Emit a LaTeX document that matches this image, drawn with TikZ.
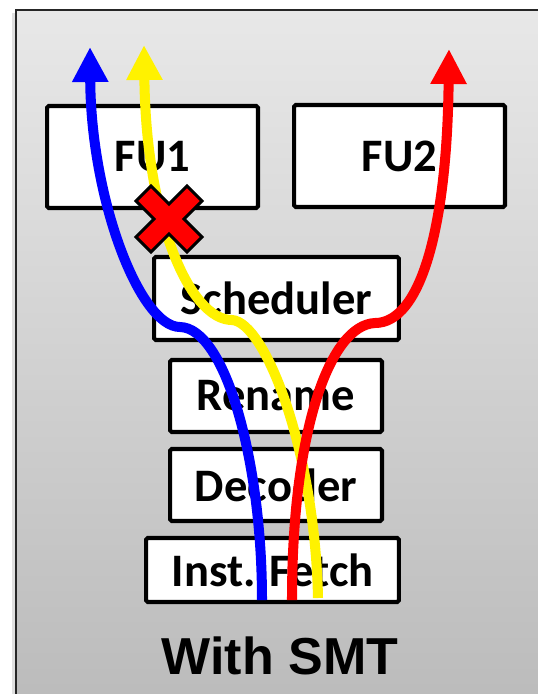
\documentclass[tikz,border=0pt]{standalone}
\usepackage{fontspec}
\setmainfont{Carlito}
\newfontfamily\arialfont{Liberation Sans}
\usetikzlibrary{arrows.meta}

\tikzset{
  stage/.style={draw, line width=2.3pt, rounded corners=1pt, fill=white, inner sep=0pt,
    font=\fontsize{26.5}{30}\selectfont\bfseries},
  thread/.style={line width=5.7pt, -{Triangle[length=0.7cm, width=0.68cm]}}
}

\begin{document}
\begin{tikzpicture}[x=0.02cm, y=-0.02cm]
  \useasboundingbox (0,0) rectangle (538,694);
  \clip (0,0) rectangle (538,694);
  % 背景框
  \fill[black!12] (12,13) rectangle (16,700);
  \shade[top color=black!9, bottom color=black!27] (16,10) rectangle (560,720);
  \draw[line width=1.2pt, black!85] (16,10) rectangle (560,720);
  % 各级
  \node[stage, minimum width=4.22cm, minimum height=2.04cm] (fu1) at (152.5,157) {FU1};
  \node[stage, minimum width=4.22cm, minimum height=2.04cm] (fu2) at (399.5,156) {FU2};
  \node[stage, minimum width=4.9cm, minimum height=1.66cm] (sched) at (276.5,298.5) {Scheduler};
  \node[stage, minimum width=4.24cm, minimum height=1.44cm] (ren) at (276,396) {Rename};
  \node[stage, minimum width=4.24cm, minimum height=1.44cm] (dec) at (276,485) {Decoder};
  \node[stage, minimum width=5.06cm, minimum height=1.28cm] (fetch) at (272.5,570) {Inst. Fetch};
  \node[font=\arialfont\fontsize{29.6}{34}\selectfont\bfseries] (title) at (280,656) {With SMT};
  % 三个线程
  \coordinate (b0) at (262,600);  \coordinate (b1) at (90,47);
  \coordinate (y0) at (318,598);  \coordinate (y1) at (144,45);
  \coordinate (r0) at (292,600);  \coordinate (r1) at (449,49);
  \draw[thread, blue] (b0) .. controls (262,460) and (225,328) .. (180,327)
    .. controls (140,327) and (91,200) .. (b1);
  \draw[thread, yellow] (y0) .. controls (315,450) and (265,322) .. (232,320)
    .. controls (190,320) and (146,220) .. (y1);
  \draw[thread, red] (r0) .. controls (292,430) and (330,325) .. (375,323)
    .. controls (420,323) and (447,230) .. (r1);
  % 叉
  \begin{scope}[shift={(169,219)}, rotate=45]
    \filldraw[fill=red, line width=1.7pt] (-10.6,-36) -- (10.6,-36) -- (10.6,-10.6) -- (36,-10.6)
      -- (36,10.6) -- (10.6,10.6) -- (10.6,36) -- (-10.6,36) -- (-10.6,10.6) -- (-36,10.6)
      -- (-36,-10.6) -- (-10.6,-10.6) -- cycle;
  \end{scope}
\end{tikzpicture}
\end{document}
